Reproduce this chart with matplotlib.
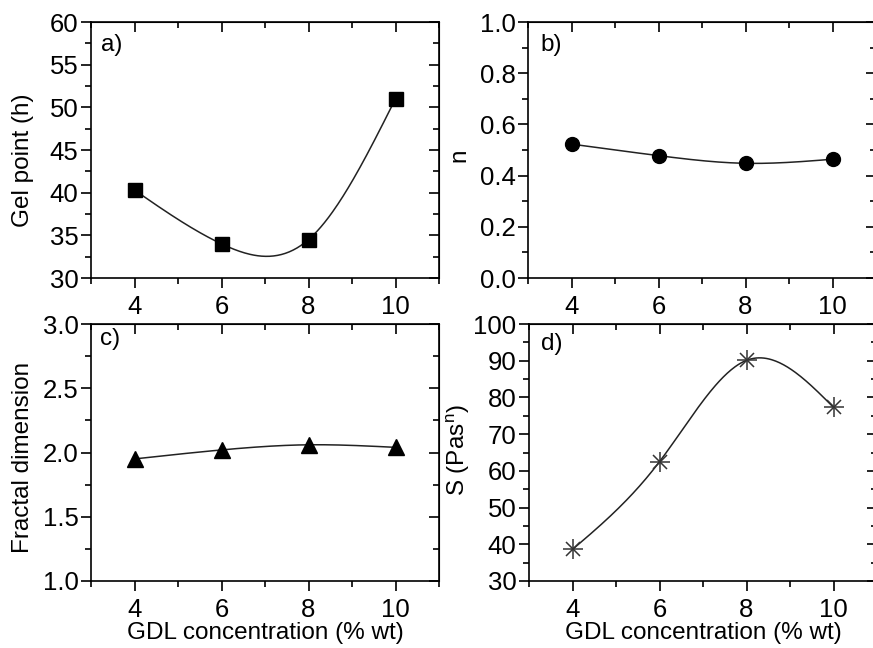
import numpy as np
import matplotlib
matplotlib.use("Agg")
import matplotlib.pyplot as plt
from matplotlib.ticker import MultipleLocator

plt.rcParams['font.family'] = ['Liberation Sans', 'DejaVu Sans']
plt.rcParams['font.size'] = 17.5
plt.rcParams['xtick.labelsize'] = 18.5
plt.rcParams['ytick.labelsize'] = 18.5

# GDL concentration (% wt)
gdl = [4, 6, 8, 10]
# values
gel_point = [40.3, 34.0, 34.5, 51.0]
n_index = [0.523, 0.478, 0.448, 0.464]
fractal_dim = [1.95, 2.02, 2.06, 2.04]
s_consist = [38.6, 62.5, 90.1, 77.3]


def natural_spline(x, y, num=200):
    # smooth curve through the points (natural cubic spline), like Origin's spline line
    x = np.asarray(x, float)
    y = np.asarray(y, float)
    n = len(x)
    h = np.diff(x)
    A = np.zeros((n, n))
    r = np.zeros(n)
    A[0, 0] = 1
    A[-1, -1] = 1
    for i in range(1, n - 1):
        A[i, i - 1] = h[i - 1]
        A[i, i] = 2 * (h[i - 1] + h[i])
        A[i, i + 1] = h[i]
        r[i] = 6 * ((y[i + 1] - y[i]) / h[i] - (y[i] - y[i - 1]) / h[i - 1])
    M = np.linalg.solve(A, r)
    xs = np.linspace(x[0], x[-1], num)
    idx = np.clip(np.searchsorted(x, xs) - 1, 0, n - 2)
    x0, x1 = x[idx], x[idx + 1]
    hh = x1 - x0
    a = (x1 - xs) / hh
    b = (xs - x0) / hh
    ys = (a * y[idx] + b * y[idx + 1]
          + ((a ** 3 - a) * M[idx] + (b ** 3 - b) * M[idx + 1]) * hh ** 2 / 6)
    return xs, ys


def style_axes(ax, ylim, ymaj, ymin):
    ax.set_xlim(3, 11)
    ax.set_ylim(*ylim)
    ax.xaxis.set_major_locator(MultipleLocator(2))
    ax.xaxis.set_minor_locator(MultipleLocator(1))
    ax.yaxis.set_major_locator(MultipleLocator(ymaj))
    ax.yaxis.set_minor_locator(MultipleLocator(ymin))
    ax.tick_params(which='both', direction='out', width=1.2)
    ax.tick_params(which='major', length=7)
    ax.tick_params(which='minor', length=4)
    ax.tick_params(axis='x', pad=5)
    ax.tick_params(axis='y', pad=2)
    for s in ax.spines.values():
        s.set_linewidth(1.2)
    top = ax.secondary_xaxis('top')
    top.xaxis.set_major_locator(MultipleLocator(2))
    top.xaxis.set_minor_locator(MultipleLocator(1))
    top.tick_params(which='both', direction='in', labeltop=False, width=1.2)
    top.tick_params(which='major', length=7)
    top.tick_params(which='minor', length=4)
    right = ax.secondary_yaxis('right')
    right.yaxis.set_major_locator(MultipleLocator(ymaj))
    right.yaxis.set_minor_locator(MultipleLocator(ymin))
    right.tick_params(which='both', direction='in', labelright=False, width=1.2)
    right.tick_params(which='major', length=7)
    right.tick_params(which='minor', length=4)


W, H = 873, 648
fig = plt.figure(figsize=(W / 100, H / 100), dpi=100)
ax_a = fig.add_axes([91 / W, 1 - 278 / H, 348 / W, 256 / H])
ax_b = fig.add_axes([528 / W, 1 - 278 / H, 348 / W, 256 / H])
ax_c = fig.add_axes([91 / W, 1 - 581 / H, 348 / W, 257 / H])
ax_d = fig.add_axes([529 / W, 1 - 581 / H, 348 / W, 257 / H])

line_kw = dict(color='#222222', lw=1.1)

# a) gel point
xs, ys = natural_spline(gdl, gel_point)
ax_a.plot(xs, ys, **line_kw)
ax_a.plot(gdl, gel_point, 's', color='black', ms=10, ls='none')
style_axes(ax_a, (30, 60), 5, 2.5)
ax_a.set_ylabel('Gel point (h)')
ax_a.yaxis.set_label_coords(-0.165, 0.46)
ax_a.text(0.03, 0.955, 'a)', transform=ax_a.transAxes, va='top', ha='left')

# b) flow index n
xs, ys = natural_spline(gdl, n_index)
ax_b.plot(xs, ys, **line_kw)
ax_b.plot(gdl, n_index, 'o', color='black', ms=10, ls='none')
style_axes(ax_b, (0, 1), 0.2, 0.1)
ax_b.set_ylabel('n')
ax_b.yaxis.set_label_coords(-0.165, 0.48)
ax_b.text(0.035, 0.955, 'b)', transform=ax_b.transAxes, va='top', ha='left')

# c) fractal dimension
xs, ys = natural_spline(gdl, fractal_dim)
ax_c.plot(xs, ys, **line_kw)
ax_c.plot(gdl, fractal_dim, '^', color='black', ms=11, ls='none')
style_axes(ax_c, (1, 3), 0.5, 0.25)
ax_c.set_ylabel('Fractal dimension')
ax_c.yaxis.set_label_coords(-0.165, 0.48)
ax_c.text(0.026, 0.985, 'c)', transform=ax_c.transAxes, va='top', ha='left')
ax_c.set_xlabel('GDL concentration (% wt)', labelpad=0)

# d) consistency S
xs, ys = natural_spline(gdl, s_consist)
ax_d.plot(xs, ys, **line_kw)
ax_d.plot(gdl, s_consist, '+', color='#333333', ms=14, mew=1.1, ls='none')
ax_d.plot(gdl, s_consist, 'x', color='#333333', ms=10, mew=1.1, ls='none')
style_axes(ax_d, (30, 100), 10, 5)
ax_d.set_ylabel('S (Pas$^{\\mathregular{n}}$)')
ax_d.yaxis.set_label_coords(-0.165, 0.51)
ax_d.text(0.035, 0.965, 'd)', transform=ax_d.transAxes, va='top', ha='left')
ax_d.set_xlabel('GDL concentration (% wt)', labelpad=0)

fig.savefig('out.png', dpi=100)
